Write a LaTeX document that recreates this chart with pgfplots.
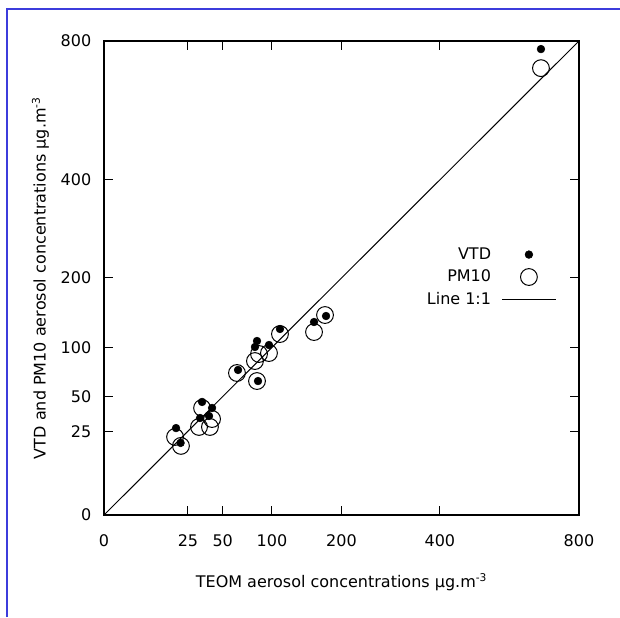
\documentclass[border=0pt]{standalone}
\usepackage{fontspec}
\setmainfont{DejaVu Sans}
\usepackage{pgfplots}
\usepackage{pgfplotstable}
\pgfplotsset{compat=1.18}
\definecolor{frameblue}{RGB}{60,60,220}
\pgfplotstableread{
x y
677 773
109.8 123.2
83 107.8
80.8 100.5
96.5 102.9
63.7 74.9
84.1 63.9
156.4 132.6
174.8 141
34.1 45.5
41.4 40.8
32.7 33.5
39.1 34.9
18.4 26.9
20.8 18.5
}\vtd
\pgfplotstableread{
x y
677 711
109.8 116.6
173.2 142.4
156.4 119.2
96.5 93.4
80.8 84.4
85.2 92.3
62.7 71.8
83 63.9
34.1 40.8
41.4 32.8
32 27.6
39.8 27.6
17.9 21.7
21 17
}\pmten
\pgfplotstableread{
x y
0 0
800 800
}\oneone
\pgfplotsset{
  markimg/.style={legend image code/.code={\draw[##1] plot coordinates {(20pt,0pt)};}},
  lineimg/.style={legend image code/.code={\draw[##1] (0pt,0pt) -- (40.5pt,0pt);}},
}
\begin{document}
\begin{tikzpicture}[font=\fontsize{12pt}{14.4pt}\selectfont]
\path[use as bounding box] (-78pt,-76.5pt) rectangle (387pt,386.25pt);
\draw[frameblue, line width=0.8pt] (-72.75pt,-76.5pt) -- (-72.75pt,379.5pt) -- (387pt,379.5pt);
\begin{axis}[
  at={(0pt,0pt)}, anchor=south west,
  scale only axis, width=356.25pt, height=355.5pt,
  xmin=0, xmax=800, ymin=0, ymax=800,
  x coord trafo/.code={\pgfmathparse{sqrt(#1)}},
  x coord inv trafo/.code={\pgfmathparse{(#1)^2}},
  y coord trafo/.code={\pgfmathparse{sqrt(#1)}},
  y coord inv trafo/.code={\pgfmathparse{(#1)^2}},
  xtick={0,25,50,100,200,400,800}, xticklabels={0,25,50,100,200,400,800},
  ytick={0,25,50,100,200,400,800}, yticklabels={0,25,50,100,200,400,800},
  tick align=inside, major tick length=6.75pt,
  tick style={black, line width=0.75pt},
  axis line style={line width=0.9pt},
  xticklabel style={yshift=-11pt},
  yticklabel style={xshift=-6pt},
  xlabel={TEOM aerosol concentrations µg.m\textsuperscript{-3}},
  ylabel={VTD and PM10 aerosol concentrations µg.m\textsuperscript{-3}},
  xlabel style={yshift=-13.5pt},
  ylabel style={yshift=2pt},
  legend plot pos=right,
  legend cell align=right,
  legend style={draw=none, fill=none, at={(0.9537,0.57)}, anchor=north east, inner sep=0pt, row sep=2.5pt, font=\fontsize{12pt}{14.4pt}\selectfont,
    /tikz/every odd column/.append style={column sep=6pt}},
]
\addplot[only marks, mark=*, mark size=2.9pt, black, markimg] table[x=x,y=y] {\vtd};
\addlegendentry{VTD}
\addplot[only marks, mark=o, mark size=6.3pt, black, mark options={line width=0.75pt, fill=none}, markimg] table[x=x,y=y] {\pmten};
\addlegendentry{PM10}
\addplot[black, line width=0.75pt, lineimg] table[x=x,y=y] {\oneone};
\addlegendentry{Line 1:1}
\end{axis}
\end{tikzpicture}
\end{document}
